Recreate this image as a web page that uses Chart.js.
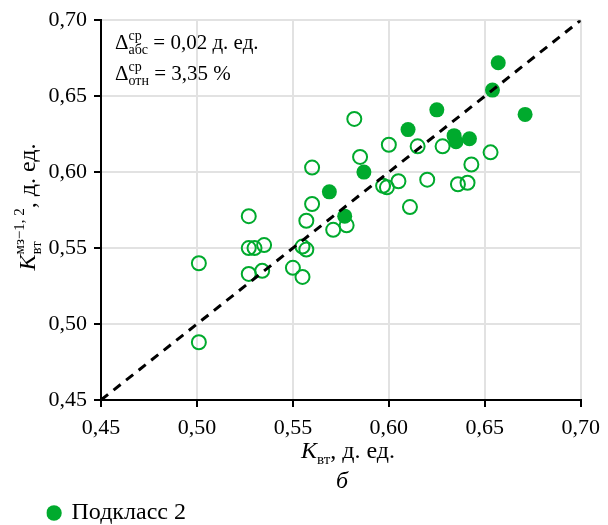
<!DOCTYPE html>
<html>
<head>
<meta charset="utf-8">
<script src="https://cdn.jsdelivr.net/npm/chart.js@4.4.1/dist/chart.umd.min.js"></script>
<style>
  html, body { margin: 0; padding: 0; background: #fff; }
  #wrap { width: 608px; height: 525px; }
</style>
</head>
<body>
<div id="wrap"><canvas id="chart" width="608" height="525"></canvas></div>
<script>
// данные
var ticksXY = [0.45, 0.50, 0.55, 0.60, 0.65, 0.70];

// Подкласс 1 (пустые кружки)
var open_x = [0.501, 0.501, 0.527, 0.527, 0.530, 0.535, 0.527, 0.534, 0.550, 0.555, 0.555, 0.557,
              0.557, 0.560, 0.560, 0.571, 0.578, 0.582, 0.585, 0.597, 0.599, 0.600, 0.605, 0.611,
              0.615, 0.620, 0.628, 0.636, 0.641, 0.643, 0.653];
var open_y = [0.540, 0.488, 0.571, 0.550, 0.550, 0.552, 0.533, 0.535, 0.537, 0.531, 0.551, 0.549,
              0.568, 0.579, 0.603, 0.562, 0.565, 0.635, 0.610, 0.591, 0.590, 0.618, 0.594, 0.577,
              0.617, 0.595, 0.617, 0.592, 0.593, 0.605, 0.613];

// Подкласс 2 (залитые кружки)
var fill_x = [0.657, 0.654, 0.671, 0.625, 0.610, 0.634, 0.635, 0.642, 0.587, 0.569, 0.577];
var fill_y = [0.672, 0.654, 0.638, 0.641, 0.628, 0.624, 0.620, 0.622, 0.600, 0.587, 0.571];

// линия y = x
var line_x = [0.45, 0.70];

function pts(xs, ys) {
  return xs.map(function (x, i) { return { x: x, y: ys[i] }; });
}

var green = '#00aa2d';
var serif = '"Liberation Serif", "Times New Roman", serif';

function fmt(v) { return Number(v).toFixed(2).replace('.', ','); }

// текст с индексами: части [{t, it}] или [{sub, sup}]
function richWidth(ctx, parts, big, small) {
  var w = 0;
  parts.forEach(function (p) {
    if (p.t) {
      ctx.font = (p.it ? 'italic ' : '') + big + 'px ' + serif;
      w += ctx.measureText(p.t).width;
    } else {
      ctx.font = small + 'px ' + serif;
      w += Math.max(ctx.measureText(p.sub || '').width, ctx.measureText(p.sup || '').width);
    }
  });
  return w;
}
function drawRich(ctx, x, y, parts, big, small) {
  ctx.fillStyle = '#000';
  ctx.textBaseline = 'alphabetic';
  ctx.textAlign = 'left';
  parts.forEach(function (p) {
    if (p.t) {
      ctx.font = (p.it ? 'italic ' : '') + big + 'px ' + serif;
      ctx.fillText(p.t, x, y);
      x += ctx.measureText(p.t).width;
    } else {
      ctx.font = small + 'px ' + serif;
      var w1 = 0, w2 = 0;
      if (p.sub) { ctx.fillText(p.sub, x, y + big * 0.25); w1 = ctx.measureText(p.sub).width; }
      if (p.sup) { ctx.fillText(p.sup, x, y - big * 0.45); w2 = ctx.measureText(p.sup).width; }
      x += Math.max(w1, w2);
    }
  });
}

var textPlugin = {
  id: 'texts',
  afterDraw: function (chart) {
    var ctx = chart.ctx;
    var area = chart.chartArea;
    ctx.save();
    // подпись оси X
    var xt = [{ t: 'K', it: true }, { sub: 'вт' }, { t: ', д. ед.' }];
    drawRich(ctx, 348 - richWidth(ctx, xt, 24, 15) / 2, 458, xt, 24, 15);
    // буква "б"
    ctx.font = 'italic 24px ' + serif;
    ctx.textAlign = 'center';
    ctx.fillText('б', 342, 488);
    // подпись оси Y
    var yt = [{ t: 'K', it: true }, { sub: 'вт', sup: 'мз−1, 2' }, { t: ', д. ед.' }];
    ctx.save();
    ctx.translate(35, 207);
    ctx.rotate(-Math.PI / 2);
    drawRich(ctx, -richWidth(ctx, yt, 24, 15) / 2, 0, yt, 24, 15);
    ctx.restore();
    // погрешности
    drawRich(ctx, area.left + 14, 49, [{ t: 'Δ' }, { sub: 'абс', sup: 'ср' }, { t: ' = 0,02 д. ед.' }], 21, 14);
    drawRich(ctx, area.left + 14, 80, [{ t: 'Δ' }, { sub: 'отн', sup: 'ср' }, { t: ' = 3,35 %' }], 21, 14);
    ctx.restore();
  }
};

var ctx = document.getElementById('chart').getContext('2d');
new Chart(ctx, {
  type: 'scatter',
  data: {
    datasets: [
      {
        label: 'y = x',
        data: pts(line_x, line_x),
        showLine: true,
        borderColor: '#000',
        borderWidth: 3,
        borderDash: [9, 7],
        pointRadius: 0,
        fill: false
      },
      {
        label: 'Подкласс 2',
        data: pts(fill_x, fill_y),
        pointStyle: 'circle',
        pointRadius: 7.5,
        backgroundColor: green,
        borderColor: green,
        borderWidth: 0
      },
      {
        label: 'Подкласс 1',
        data: pts(open_x, open_y),
        pointStyle: 'circle',
        pointRadius: 7,
        backgroundColor: 'rgba(0,0,0,0)',
        borderColor: green,
        borderWidth: 2
      }
    ]
  },
  options: {
    responsive: false,
    animation: false,
    layout: { padding: { left: 46.5, right: 24, top: 20, bottom: -10 } },
    plugins: {
      tooltip: { enabled: false },
      legend: {
        position: 'bottom',
        align: 'start',
        labels: {
          filter: function (item) { return item.text === 'Подкласс 2'; },
          usePointStyle: true,
          boxWidth: 11,
          boxHeight: 11,
          padding: 2,
          color: '#000',
          font: { family: serif, size: 24 }
        }
      }
    },
    scales: {
      x: {
        type: 'linear',
        min: 0.45,
        max: 0.70,
        afterBuildTicks: function (s) { s.ticks = ticksXY.map(function (v) { return { value: v }; }); },
        afterFit: function (s) { s.height = 99; },
        ticks: { callback: fmt, color: '#000', padding: 8, font: { family: serif, size: 22 } },
        grid: { color: '#e2e2e2', lineWidth: 2, tickColor: '#000', tickLength: 7, tickWidth: 2 },
        border: { color: '#000', width: 2 }
      },
      y: {
        type: 'linear',
        min: 0.45,
        max: 0.70,
        afterBuildTicks: function (s) { s.ticks = ticksXY.map(function (v) { return { value: v }; }); },
        afterFit: function (s) { s.width = 101 - 46.5; },
        ticks: { callback: fmt, color: '#000', padding: 7, font: { family: serif, size: 22 } },
        grid: { color: '#e2e2e2', lineWidth: 2, tickColor: '#000', tickLength: 7, tickWidth: 2 },
        border: { color: '#000', width: 2 }
      }
    }
  },
  plugins: [textPlugin]
});
</script>
</body>
</html>
